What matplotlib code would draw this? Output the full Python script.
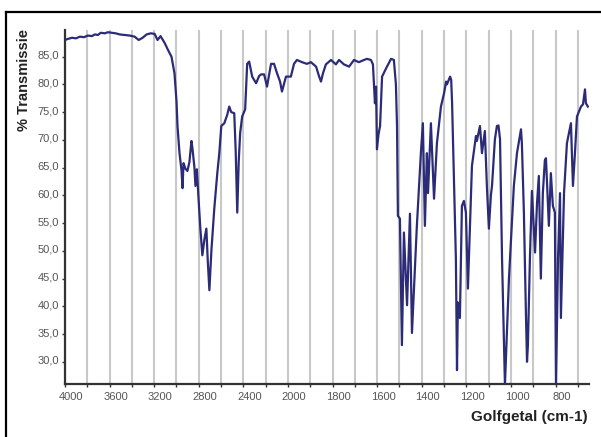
import matplotlib.pyplot as plt
import matplotlib.transforms as mtransforms
from matplotlib.lines import Line2D
import numpy as np

# IR spectrum
wavenumber = [4000, 3973, 3937, 3902, 3866, 3830, 3795, 3759, 3732, 3705, 3679, 3643,
              3616, 3580, 3545, 3509, 3464, 3420, 3375, 3339, 3304, 3268, 3232, 3196,
              3170, 3143, 3107, 3071, 3045, 3018, 3000, 2991, 2973, 2955, 2946, 2937,
              2920, 2902, 2884, 2866, 2857, 2839, 2830, 2817, 2804, 2786, 2768, 2750,
              2732, 2719, 2705, 2687, 2661, 2634, 2616, 2598, 2571, 2545, 2527, 2509,
              2482, 2469, 2455, 2442, 2429, 2411, 2384, 2366, 2348, 2321, 2286, 2259,
              2241, 2214, 2188, 2152, 2125, 2098, 2071, 2054, 2018,
              1987, 1973, 1960, 1937, 1915, 1897, 1874, 1861, 1852, 1843, 1830, 1807,
              1785, 1771, 1749, 1726, 1704, 1682, 1659, 1646, 1628, 1619, 1610, 1605,
              1601, 1594, 1587, 1578, 1561, 1538, 1525, 1516, 1511, 1507, 1498, 1489,
              1480, 1466, 1453, 1444, 1422, 1404, 1395, 1386, 1377, 1372, 1359, 1345,
              1332, 1314, 1300, 1291, 1287, 1273, 1268, 1264, 1247, 1242, 1238, 1233, 1229,
              1220, 1211, 1202, 1193, 1175, 1157, 1153, 1139, 1130, 1117, 1108, 1099,
              1090, 1085, 1072, 1063, 1056, 1049, 1040, 1027, 1009, 987, 973, 955, 951,
              946, 942, 933, 928, 924, 915, 906, 892, 883, 875, 866, 857,
              848, 843, 830, 821, 812, 803, 798, 789, 780, 776, 762, 749, 731,
              722, 713, 704, 686, 677, 668, 664, 655]
transmission = [88.0, 88.2, 88.4, 88.3, 88.6, 88.5, 88.8, 88.7, 89.0, 88.9, 89.3, 89.2,
                89.4, 89.3, 89.2, 89.0, 88.9, 88.8, 88.6, 88.0, 88.4, 89.0, 89.2, 89.1,
                88.0, 88.7, 87.5, 86.0, 85.0, 82.0, 77.0, 72.5, 67.6, 64.5, 61.3, 65.8,
                64.8, 64.4, 66.0, 69.8, 68.5, 65.0, 61.7, 64.7, 60.0, 54.0, 49.2, 52.0,
                54.0, 48.0, 42.9, 50.0, 57.6, 64.0, 67.6, 72.5, 73.0, 74.5, 76.0, 75.0,
                74.8, 68.0, 56.9, 66.0, 71.2, 74.2, 75.5, 83.7, 84.1, 81.4, 80.2, 81.5,
                81.8, 81.8, 79.6, 83.7, 83.7, 82.0, 80.5, 78.7, 81.4,
                81.4, 83.7, 84.4, 84.0, 83.7, 84.0, 83.2, 81.5, 80.5, 82.0, 83.6, 84.4,
                83.6, 84.4, 83.6, 83.2, 84.4, 84.0, 84.4, 84.6, 84.4, 83.6, 76.6, 79.6,
                68.3, 71.0, 72.5, 81.4, 82.8, 84.6, 84.4, 80.0, 72.5, 56.3, 55.8, 33.0,
                53.3, 40.2, 56.7, 35.2, 54.5, 67.6, 73.0, 54.5, 67.6, 60.4, 73.0, 59.4,
                69.4, 76.0, 78.4, 80.5, 80.0, 81.4, 80.8, 76.6, 48.6, 28.5, 40.7, 38.5, 37.9,
                58.1, 59.0, 56.9, 43.2, 65.3, 70.7, 69.8, 72.5, 67.6, 71.6, 61.7, 54.0,
                60.0, 61.7, 70.1, 72.5, 72.6, 70.1, 48.6, 25.8, 45.0, 61.7, 67.6, 71.9, 69.4,
                62.2, 56.9, 38.9, 30.0, 33.0, 48.6, 60.8, 49.7, 58.7, 63.5, 45.0, 60.4,
                66.3, 66.7, 54.5, 64.0, 58.1, 56.9, 25.5, 48.6, 60.4, 37.9, 60.4, 69.4, 73.0,
                61.7, 67.6, 74.2, 76.0, 76.4, 79.1, 76.6, 76.0]

grid_ticks = [4000, 3800, 3600, 3400, 3200, 3000, 2800, 2600, 2400, 2200, 2000,
              1900, 1800, 1700, 1600, 1500, 1400, 1300, 1200, 1100, 1000, 900, 800, 700]
labelled = [4000, 3600, 3200, 2800, 2400, 2000, 1800, 1600, 1400, 1200, 1000, 800]
y_ticks = [30, 35, 40, 45, 50, 55, 60, 65, 70, 75, 80, 85]


# scale changes at 2000 cm-1 (200 per division above, 100 below)
def fwd(x):
    x = np.asarray(x, float)
    return np.where(x >= 2000, x / 200.0, x / 100.0 - 10.0)


def inv(t):
    t = np.asarray(t, float)
    return np.where(t >= 10, t * 200.0, (t + 10.0) * 100.0)


fig = plt.figure(figsize=(6.01, 4.37), dpi=100)
ax = fig.add_axes([65 / 601, 1 - 384 / 437, (589 - 65) / 601, (384 - 30) / 437])

ax.set_xscale('function', functions=(fwd, inv))
ax.plot(wavenumber, transmission, color='#2b2b78', lw=1.6, zorder=3)
ax.set_xlim(4000, 650)
ax.set_ylim(26, 89.8)

ax.set_xticks(grid_ticks)
ax.set_xticklabels([str(t) if t in labelled else '' for t in grid_ticks])
ax.set_yticks(y_ticks)
ax.set_yticklabels([f'{v},0' for v in y_ticks])
ax.grid(axis='x', color='#c8c8c8', lw=1.5, zorder=0)
ax.grid(axis='y', visible=False)

for s in ['top', 'right']:
    ax.spines[s].set_visible(False)
for s in ['left', 'bottom']:
    ax.spines[s].set_color('#333333')
    ax.spines[s].set_linewidth(1.6)

ax.tick_params(axis='both', length=2.5, width=1, color='#333333',
               labelsize=8, labelcolor='#555555')
ax.tick_params(axis='x', pad=3)
ax.tick_params(axis='y', pad=2)
for lab in ax.get_xticklabels() + ax.get_yticklabels():
    lab.set_fontfamily('Liberation Sans')

# labels sit a bit off their ticks in the original
dx = mtransforms.ScaledTranslation(0.06, 0, fig.dpi_scale_trans)
for lab in ax.get_xticklabels():
    lab.set_transform(lab.get_transform() + dx)
dy = mtransforms.ScaledTranslation(0, 0.02, fig.dpi_scale_trans)
for lab in ax.get_yticklabels():
    lab.set_transform(lab.get_transform() + dy)

fig.text(24 / 601, 1 - 80 / 437, '% Transmissie', rotation=90, ha='center', va='center',
         fontsize=10.5, fontweight='bold', family='Liberation Sans', color='#222222')
fig.text(588 / 601, 1 - 417 / 437, 'Golfgetal (cm-1)', ha='right', va='center',
         fontsize=11, fontweight='bold', family='Liberation Sans', color='#222222')

# outer frame of the original figure
fig.add_artist(Line2D([6 / 601, 6 / 601], [0, 1 - 12 / 437], color='black', lw=1.6,
                      transform=fig.transFigure))
fig.add_artist(Line2D([6 / 601, 1], [1 - 12 / 437, 1 - 12 / 437], color='black', lw=1.6,
                      transform=fig.transFigure))

fig.savefig('out.png', dpi=100)
